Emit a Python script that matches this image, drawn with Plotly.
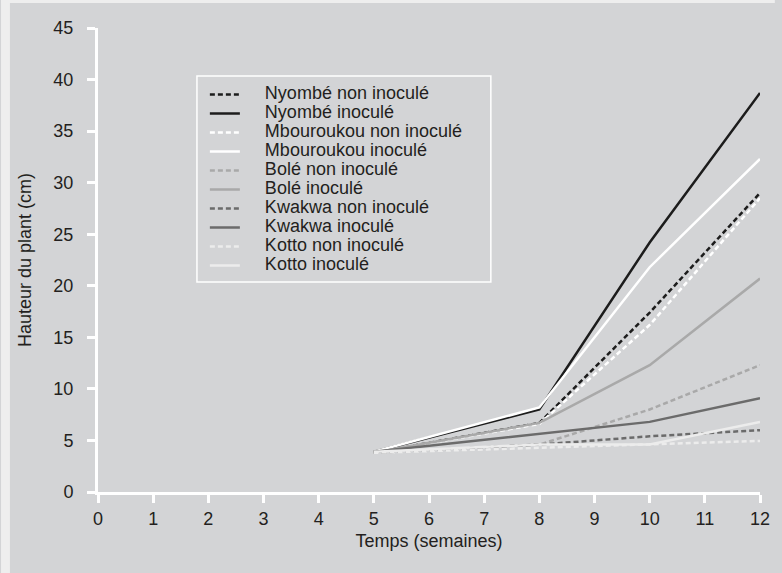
import plotly.graph_objects as go

weeks = [5, 8, 10, 12]
names = ["Nyombé non inoculé", "Nyombé inoculé",
         "Mbouroukou non inoculé", "Mbouroukou inoculé",
         "Bolé non inoculé", "Bolé inoculé",
         "Kwakwa non inoculé", "Kwakwa inoculé",
         "Kotto non inoculé", "Kotto inoculé"]
nyombe_non = [3.8, 6.7, 17.4, 29.0]
nyombe_ino = [3.9, 8.0, 24.2, 38.7]
mbou_non = [3.8, 6.6, 16.2, 28.5]
mbou_ino = [3.9, 8.2, 21.8, 32.3]
bole_non = [3.8, 4.6, 8.0, 12.3]
bole_ino = [3.8, 6.7, 12.3, 20.7]
kwakwa_non = [3.8, 4.6, 5.4, 6.0]
kwakwa_ino = [3.9, 5.6, 6.8, 9.1]
kotto_non = [3.8, 4.3, 4.6, 4.95]
kotto_ino = [3.9, 4.6, 4.6, 6.8]
series = [nyombe_non, nyombe_ino, mbou_non, mbou_ino, bole_non, bole_ino,
          kwakwa_non, kwakwa_ino, kotto_non, kotto_ino]
x_ticks = list(range(0, 13))
y_ticks = list(range(0, 50, 5))

colors = ["#1c1c1c", "#1c1c1c", "#ffffff", "#ffffff", "#a9a9a9", "#a9a9a9",
          "#6b6b6b", "#6b6b6b", "#ececec", "#ececec"]
dashes = ["5px,3px", "solid"] * 5

BG = "#d3d4d6"
TXT = "#231f20"
FONT = "Liberation Sans, Arial, sans-serif"

fig = go.Figure()
for name, ys, c, d in zip(names, series, colors, dashes):
    fig.add_trace(go.Scatter(
        x=weeks, y=ys, mode="lines",
        name='<span style="font-size:18px">' + "\u00a0" * 4 + name + "</span>",
        line=dict(color=c, width=2.5, dash=d)))

fig.update_layout(
    width=782, height=573,
    margin=dict(l=98, r=15, t=28, b=81),
    paper_bgcolor=BG, plot_bgcolor=BG,
    font=dict(family=FONT, size=18, color=TXT),
    showlegend=True,
    legend=dict(x=(206 - 98) / 669, y=(492 - 80) / 464, xanchor="left", yanchor="top",
                bgcolor="rgba(0,0,0,0)", borderwidth=0,
                font=dict(size=12.25, color=TXT)),
    xaxis=dict(range=[0, 12], tickvals=x_ticks, showgrid=False, zeroline=False,
               showline=True, linecolor="white", linewidth=3,
               ticks="outside", ticklen=8, tickwidth=3, tickcolor="white",
               title=dict(text="Temps (semaines)", standoff=7,
                          font=dict(size=18, color=TXT))),
    yaxis=dict(range=[0, 45], tickvals=y_ticks, showgrid=False, zeroline=False,
               showline=True, linecolor="white", linewidth=3,
               ticks="outside", ticklen=8, tickwidth=3, tickcolor="white",
               ticklabelstandoff=10,
               title=dict(text="Hauteur du plant (cm)", standoff=18,
                          font=dict(size=18, color=TXT))),
    shapes=[
        dict(type="rect", xref="paper", yref="paper",
             x0=(198 - 98) / 669, x1=(495 - 98) / 669,
             y0=(492 - 282) / 464, y1=(492 - 76) / 464,
             line=dict(color="white", width=1.5), fillcolor="rgba(0,0,0,0)", layer="below"),
        dict(type="rect", xref="paper", yref="paper",
             x0=-98 / 669, x1=-89 / 669, y0=-81 / 464, y1=1 + 28 / 464,
             line=dict(width=0), fillcolor="#eeeeee", layer="below"),
        dict(type="rect", xref="paper", yref="paper",
             x0=-98 / 669, x1=1 + 15 / 669, y0=1 + 25 / 464, y1=1 + 28 / 464,
             line=dict(width=0), fillcolor="#eeeeee", layer="below"),
    ],
)

fig.write_html("out.html", config={"displayModeBar": False})
with open("out.html", encoding="utf-8") as f:
    html = f.read()
html = html.replace("<head>", "<head><style>html,body{margin:0;padding:0;}</style>", 1)
with open("out.html", "w", encoding="utf-8") as f:
    f.write(html)
